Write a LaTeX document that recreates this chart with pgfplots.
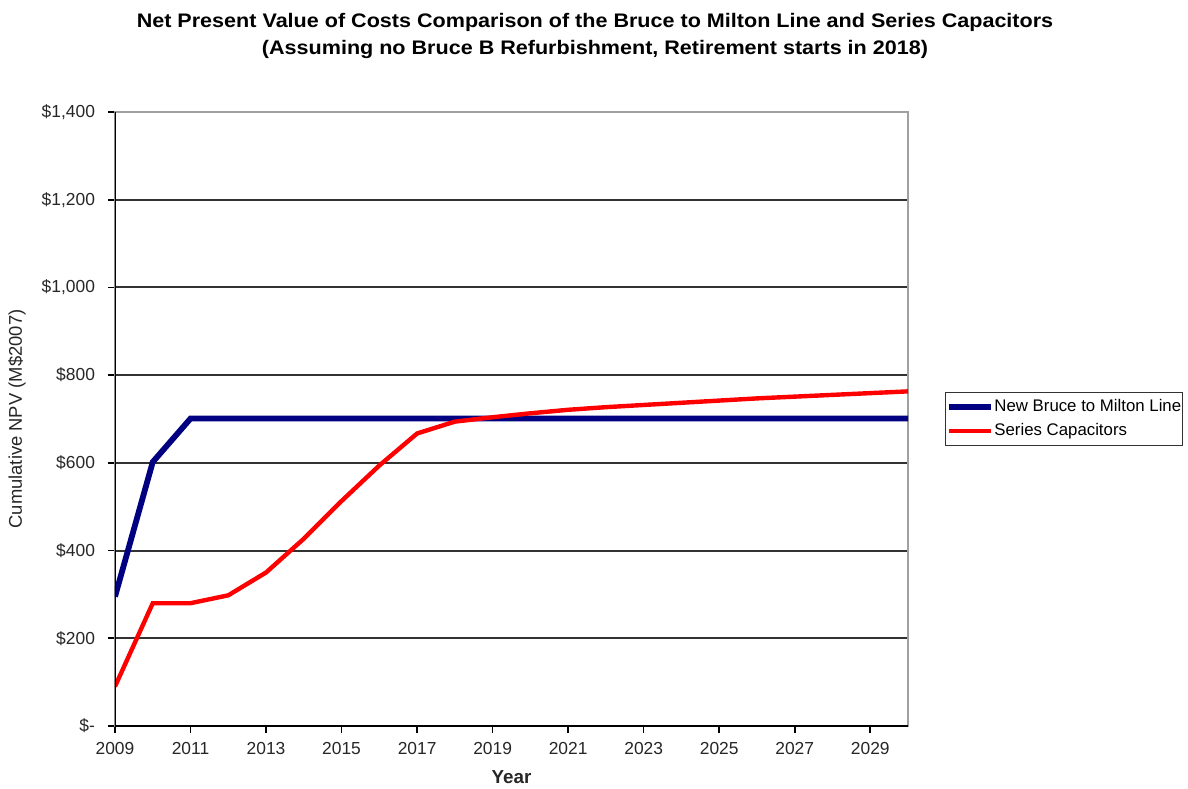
\documentclass[border=0pt]{standalone}
\usepackage{pgfplots}
\pgfplotsset{compat=1.18}
\usepackage{fontspec}
\setmainfont{Liberation Sans}
\definecolor{navyline}{RGB}{0,0,128}
\definecolor{redline}{RGB}{255,0,0}
\definecolor{gridc}{RGB}{50,50,50}
\definecolor{framec}{RGB}{160,160,160}
\begin{document}
\begin{tikzpicture}
\begin{axis}[
  scale only axis,
  width=396.5pt, height=307pt,
  xmin=2009, xmax=2030, ymin=0, ymax=1400,
  xtick={2009,2011,...,2029},
  ytick={0,200,...,1400},
  yticklabels={\$-,\$200,\$400,\$600,\$800,{\$1,000},{\$1,200},{\$1,400}},
  /pgf/number format/assume math mode=true,
  /pgf/number format/1000 sep={},
  tick label style={font=\fontsize{8.7}{10}\selectfont, text=black!85},
  yticklabel style={xshift=-3pt},
  xticklabel style={yshift=-1pt},
  xtick pos=left, ytick pos=left,
  tick align=outside,
  major tick length=3.5pt,
  every tick/.style={black, line width=0.8pt},
  ymajorgrids,
  major grid style={gridc, line width=1pt},
  axis line style={framec, line width=0.8pt},
  xlabel={\textbf{Year}},
  ylabel={Cumulative NPV (M\$2007)},
  every axis y label/.style={at={(axis description cs:-0.1236,0.5)}, rotate=90, anchor=center, font=\fontsize{9.2}{10}\selectfont, text=black!85},
  every axis x label/.style={at={(axis description cs:0.5,-0.083)}, anchor=center, font=\fontsize{9.4}{10}\selectfont, text=black!85},
  legend style={at={(axis description cs:1.0467,0.544)}, anchor=north west,
    draw=black!80, line width=0.6pt, font=\fontsize{8.4}{10}\selectfont,
    inner xsep=0pt, inner ysep=1.3pt, row sep=0.5pt,
    nodes={inner xsep=0.5pt}},
  legend cell align=left,
  legend image code/.code={\draw[#1] (0pt,0pt) -- (21pt,0pt);},
]
\addplot[navyline, line width=2.9pt] coordinates {
(2009,295) (2010,602) (2011,701) (2030,701)
};
\addlegendentry{New Bruce to Milton Line}
\addplot[redline, line width=2.2pt] coordinates {
(2009,90) (2010,280) (2011,280) (2012,298) (2013,350) (2014,427) (2015,513)
(2016,594) (2017,667) (2018,694) (2019,704) (2020,713) (2021,721) (2022,727)
(2023,732) (2024,737) (2025,742) (2026,747) (2027,751) (2028,755) (2029,759) (2030,763)
};
\addlegendentry{Series Capacitors}
\draw[black, line width=1pt] (rel axis cs:0,1) -- (rel axis cs:0,0) -- (rel axis cs:1,0);
\end{axis}
\node[font=\fontsize{9.8}{11}\selectfont\bfseries] at (240pt,352pt) {\scalebox{1.1}[1]{Net Present Value of Costs Comparison of the Bruce to Milton Line and Series Capacitors}};
\node[font=\fontsize{9.8}{11}\selectfont\bfseries] at (240pt,338.5pt) {\scalebox{1.1}[1]{(Assuming no Bruce B Refurbishment, Retirement starts in 2018)}};
\pgfresetboundingbox
\path (-57.5pt,-31pt) rectangle (536.5pt,363pt);
\end{tikzpicture}
\end{document}
